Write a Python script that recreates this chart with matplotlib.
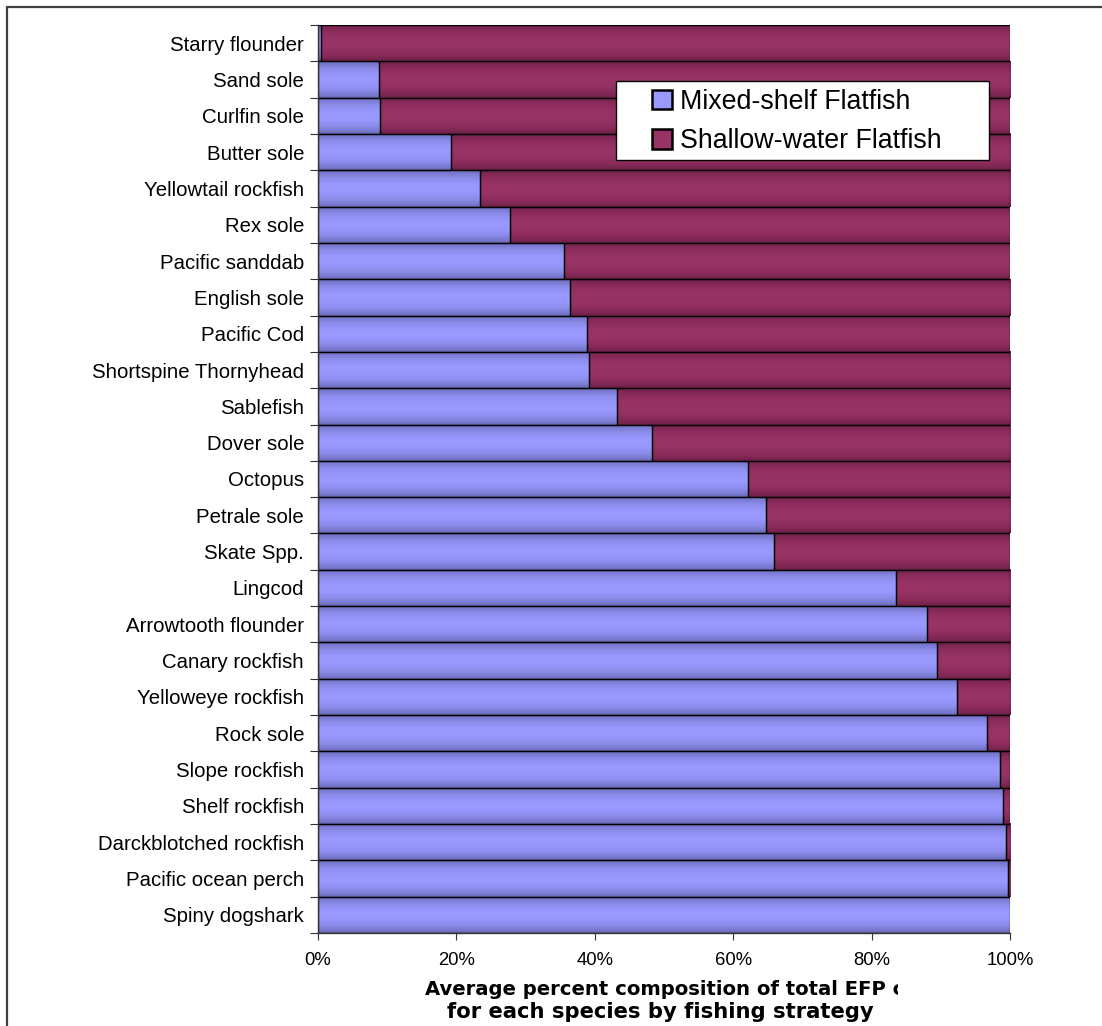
import numpy as np
import matplotlib
matplotlib.use("Agg")
import matplotlib.pyplot as plt
from matplotlib.lines import Line2D
from matplotlib.patches import Patch, Rectangle
from matplotlib.transforms import Bbox, TransformedBbox

# Species, listed top to bottom
species = [
    "Starry flounder", "Sand sole", "Curlfin sole", "Butter sole",
    "Yellowtail rockfish", "Rex sole", "Pacific sanddab", "English sole",
    "Pacific Cod", "Shortspine Thornyhead", "Sablefish", "Dover sole",
    "Octopus", "Petrale sole", "Skate Spp.", "Lingcod",
    "Arrowtooth flounder", "Canary rockfish", "Yelloweye rockfish",
    "Rock sole", "Slope rockfish", "Shelf rockfish",
    "Darckblotched rockfish", "Pacific ocean perch", "Spiny dogshark",
]

# Percent of catch by fishing strategy
mixed_shelf = [
    0.5, 8.8, 9.0, 19.2, 23.4, 27.8, 35.6, 36.4, 38.9, 39.1, 43.2, 48.2,
    62.1, 64.7, 65.9, 83.5, 88.0, 89.4, 92.3, 96.7, 98.6, 99.0, 99.4,
    99.7, 100.0,
]
shallow_water = [
    99.5, 91.2, 91.0, 80.8, 76.6, 72.2, 64.4, 63.6, 61.1, 60.9, 56.8, 51.8,
    37.9, 35.3, 34.1, 16.5, 12.0, 10.6, 7.7, 3.3, 1.4, 1.0, 0.6,
    0.3, 0.0,
]

series_names = ["Mixed-shelf Flatfish", "Shallow-water Flatfish"]
x_ticks = [0, 20, 40, 60, 80, 100]
x_ticklabels = ["0%", "20%", "40%", "60%", "80%", "100%"]

W, H, DPI = 1102, 1026, 100
BLUE_LIGHT = np.array([153, 153, 255]) / 255
BLUE_DARK = np.array([96, 96, 170]) / 255
RED_LIGHT = np.array([153, 51, 102]) / 255
RED_DARK = np.array([102, 28, 66]) / 255

plt.rcParams["font.family"] = ["Liberation Sans", "DejaVu Sans"]

fig = plt.figure(figsize=(W / DPI, H / DPI), dpi=DPI)
ax = fig.add_axes([318 / W, (H - 933) / H, 692 / W, 908 / H])

n = len(species)
ypos = np.arange(n)[::-1]  # first species at the top


def shade_bars(container, light, dark):
    t = np.linspace(0, 1, 96)
    prof = np.sin(np.pi * t) ** 0.6
    col = dark[None, :] + (light - dark)[None, :] * prof[:, None]
    img = col[:, None, :]
    for rect in container.patches:
        w = rect.get_width()
        if w <= 0:
            rect.set_visible(False)
            continue
        x0, y0, h = rect.get_x(), rect.get_y(), rect.get_height()
        ax.imshow(img, extent=(x0, x0 + w, y0, y0 + h), origin="lower",
                  aspect="auto", interpolation="bilinear", zorder=1)


b1 = ax.barh(ypos, mixed_shelf, height=1.0, facecolor="none",
             edgecolor="black", linewidth=0.9, zorder=2)
b2 = ax.barh(ypos, shallow_water, left=mixed_shelf, height=1.0,
             facecolor="none", edgecolor="black", linewidth=0.9, zorder=2)
shade_bars(b1, BLUE_LIGHT, BLUE_DARK)
shade_bars(b2, RED_LIGHT, RED_DARK)

ax.set_xlim(0, 100)
ax.set_ylim(-0.5, n - 0.5)

for s in ("top", "right"):
    ax.spines[s].set_visible(False)
for s in ("left", "bottom"):
    ax.spines[s].set_color("#333333")
    ax.spines[s].set_linewidth(1.0)
    ax.spines[s].set_zorder(3)

ax.set_xticks(x_ticks)
ax.set_xticklabels(x_ticklabels, fontsize=13.3)
ax.tick_params(axis="x", direction="out", length=5, width=0.8,
               color="#333333", pad=9)

ax.set_yticks(ypos)
ax.set_yticklabels(species, fontsize=14.7)
ax.set_yticks(np.arange(-0.5, n, 1.0), minor=True)
ax.tick_params(axis="y", which="major", length=0, pad=10)
ax.tick_params(axis="y", which="minor", direction="out", length=6,
               width=0.8, color="#333333")

# Legend: white box with the two entries centred inside it
bx0, bx1, by0, by1 = 616, 989, 81, 160
fig.add_artist(Rectangle((bx0 / W, (H - by1) / H), (bx1 - bx0) / W,
                         (by1 - by0) / H, transform=fig.transFigure,
                         facecolor="white", edgecolor="black",
                         linewidth=1.0, zorder=4))
handles = [
    Patch(facecolor=BLUE_LIGHT, edgecolor="black", linewidth=1.8),
    Patch(facecolor=RED_LIGHT, edgecolor="black", linewidth=1.8),
]
leg = fig.legend(handles, series_names, loc="center",
                 bbox_to_anchor=(797 / W, (H - 121.5) / H),
                 bbox_transform=fig.transFigure,
                 fontsize=19.3, frameon=False, borderpad=0,
                 labelspacing=0.5, handlelength=0.75, handleheight=0.75,
                 handletextpad=0.3)
leg.set_zorder(5)

# Axis title (two lines, first line clipped at the text box edge)
t1 = fig.text(425 / W, (H - 995) / H,
              "Average percent composition of total EFP catch",
              ha="left", va="baseline", fontsize=14.1, fontweight="bold",
              family="DejaVu Sans")
t1.set_clip_box(TransformedBbox(Bbox([[0, 0], [898 / W, 1]]),
                                fig.transFigure))
t1.set_clip_on(True)
fig.text(660 / W, (H - 1018) / H, "for each species by fishing strategy",
         ha="center", va="baseline", fontsize=15.2, fontweight="bold",
         family="DejaVu Sans")

# Outer frame lines
fig.add_artist(Line2D([6 / W, 1.02], [(H - 6.5) / H] * 2,
                      transform=fig.transFigure, color="#404040",
                      linewidth=1.6, solid_capstyle="butt"))
fig.add_artist(Line2D([6.5 / W] * 2, [-0.02, (H - 6) / H],
                      transform=fig.transFigure, color="#404040",
                      linewidth=1.6, solid_capstyle="butt"))

fig.savefig("out.png", dpi=DPI, facecolor="white")
